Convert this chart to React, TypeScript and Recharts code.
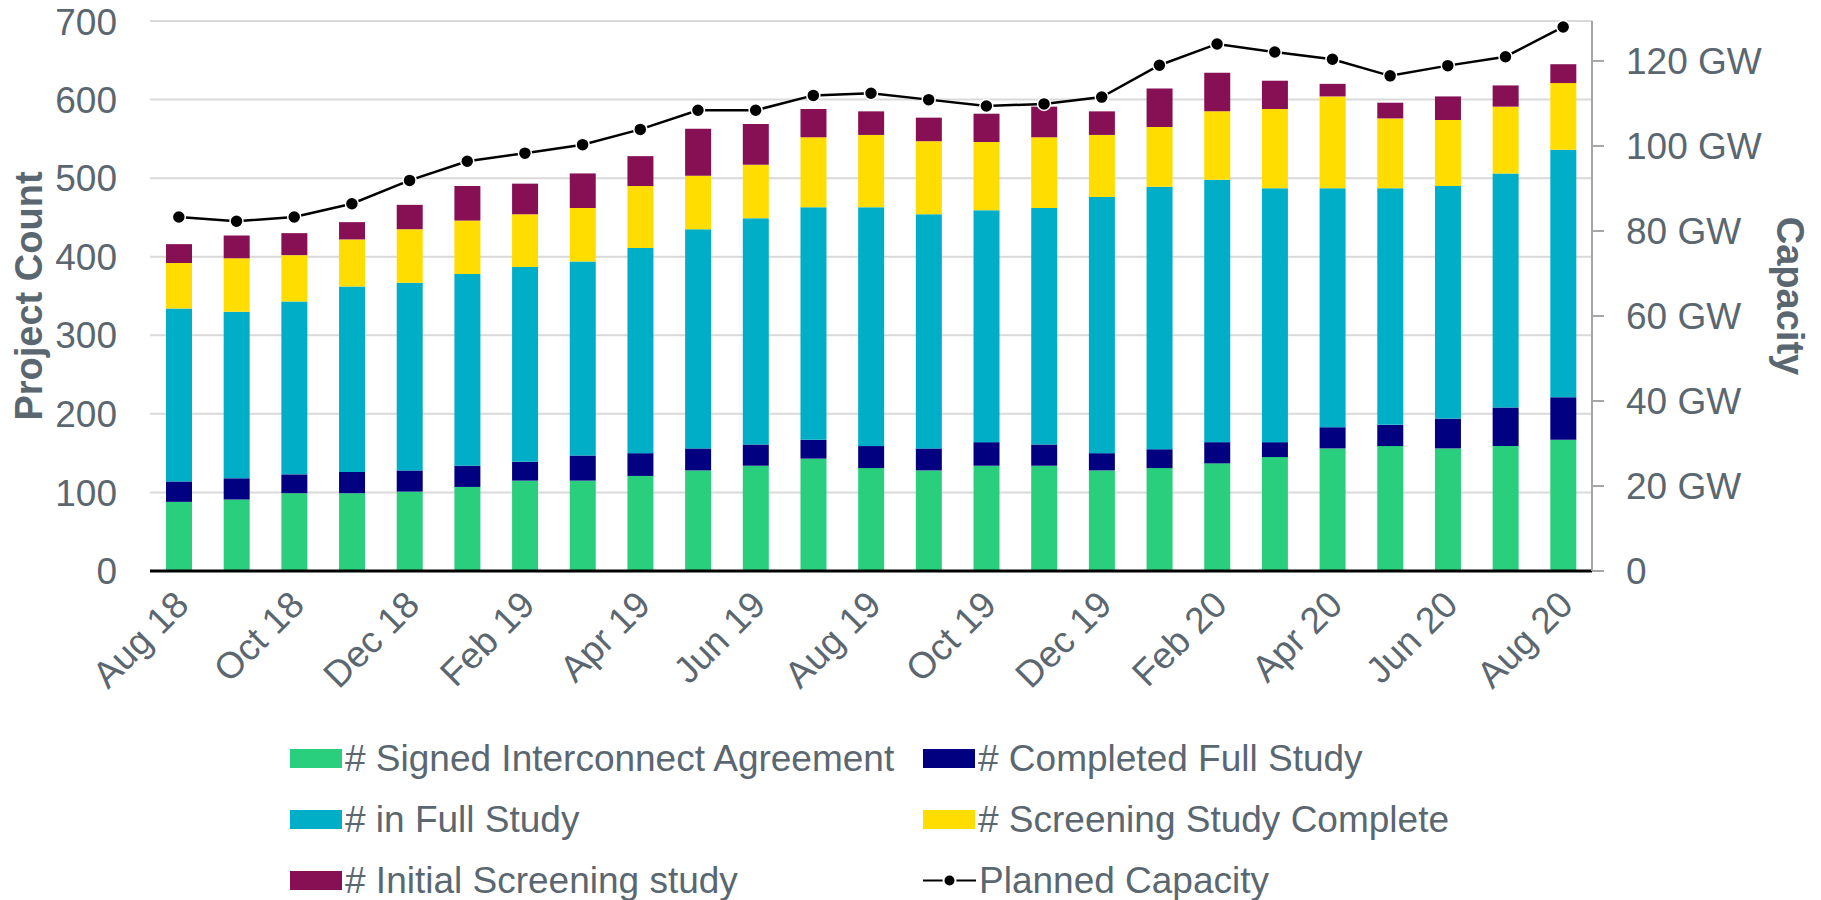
import {
  ComposedChart,
  Bar,
  Line,
  XAxis,
  YAxis,
  CartesianGrid,
  Label,
} from "recharts";

const months = [
  "Aug 18", "Sep 18", "Oct 18", "Nov 18", "Dec 18", "Jan 19", "Feb 19", "Mar 19",
  "Apr 19", "May 19", "Jun 19", "Jul 19", "Aug 19", "Sep 19", "Oct 19", "Nov 19",
  "Dec 19", "Jan 20", "Feb 20", "Mar 20", "Apr 20", "May 20", "Jun 20", "Jul 20", "Aug 20",
];

const signedIA = [88, 91, 99, 99, 101, 107, 115, 115, 121, 128, 134, 143, 131, 128, 134, 134, 128, 131, 137, 145, 156, 159, 156, 159, 167];
const completedFull = [26, 27, 24, 27, 27, 27, 24, 32, 29, 28, 27, 24, 28, 28, 30, 27, 22, 24, 27, 19, 27, 27, 38, 49, 54];
const inFullStudy = [220, 212, 220, 236, 239, 244, 248, 247, 261, 279, 288, 296, 304, 298, 295, 301, 326, 334, 334, 323, 304, 301, 296, 298, 315];
const screeningComplete = [58, 68, 59, 60, 68, 68, 67, 68, 79, 68, 68, 89, 92, 93, 87, 90, 79, 76, 87, 101, 117, 89, 84, 85, 85];
const initialScreening = [24, 29, 28, 22, 31, 44, 39, 44, 38, 60, 52, 36, 30, 30, 36, 39, 30, 49, 49, 36, 16, 20, 30, 27, 24];
const plannedCapacityGW = [83.3, 82.3, 83.3, 86.4, 91.9, 96.4, 98.3, 100.3, 103.9, 108.4, 108.4, 111.9, 112.4, 110.9, 109.4, 109.9, 111.5, 119, 124, 122.1, 120.4, 116.5, 118.9, 121, 128];

const countTicks = [0, 100, 200, 300, 400, 500, 600, 700];
const capacityTicks = [0, 20, 40, 60, 80, 100, 120];

const TEXT = "#5B6770";
const FONT = "'Liberation Sans', Arial, sans-serif";

const series = [
  { key: "signed", name: "# Signed Interconnect Agreement", color: "#29CF7D" },
  { key: "completed", name: "# Completed Full Study", color: "#000080" },
  { key: "full", name: "# in Full Study", color: "#00AEC7" },
  { key: "screening", name: "# Screening Study Complete", color: "#FFDD00" },
  { key: "initial", name: "# Initial Screening study", color: "#870F54" },
];

const data = months.map((m, i) => ({
  month: m,
  signed: signedIA[i],
  completed: completedFull[i],
  full: inFullStudy[i],
  screening: screeningComplete[i],
  initial: initialScreening[i],
  capacity: plannedCapacityGW[i],
}));

function MonthTick({ x, y, payload }: any) {
  return (
    <text
      transform={`translate(${x + 12},${y + 36}) rotate(-45)`}
      textAnchor="end"
      fill={TEXT}
      fontSize={37}
      fontFamily={FONT}
    >
      {payload.value}
    </text>
  );
}

// legend order follows the reference: two columns, three rows
const legendItems = [
  series[0], series[1], series[2], series[3], series[4],
  { key: "capacity", name: "Planned Capacity", color: "#000" },
];

function ChartLegend() {
  return (
    <div
      style={{
        position: "absolute",
        left: 290,
        top: 728,
        display: "grid",
        gridTemplateColumns: "633px auto",
        gridAutoRows: "61px",
        fontFamily: FONT,
        fontSize: 37,
        color: TEXT,
      }}
    >
      {legendItems.map((it) => (
        <div key={it.key} style={{ display: "flex", alignItems: "center" }}>
          {it.key === "capacity" ? (
            <svg width={53} height={19}>
              <line x1={0} y1={9.5} x2={53} y2={9.5} stroke="#000" strokeWidth={2} />
              <circle cx={26.5} cy={9.5} r={6} fill="#000" stroke="#fff" strokeWidth={2} />
            </svg>
          ) : (
            <div style={{ width: 52, height: 19, background: it.color }} />
          )}
          <span style={{ marginLeft: 3, whiteSpace: "nowrap" }}>{it.name}</span>
        </div>
      ))}
    </div>
  );
}

export default function App() {
  return (
    <div style={{ position: "absolute", left: 0, top: 0, width: 1821, height: 900, background: "#fff" }}>
      <ComposedChart
        width={1821}
        height={900}
        data={data}
        margin={{ top: 21, right: 0, left: 0, bottom: 199 }}
        barSize={26}
      >
        <CartesianGrid yAxisId="left" vertical={false} stroke="#D9D9D9" strokeWidth={2} />
        <XAxis
          dataKey="month"
          interval={1}
          tick={<MonthTick />}
          tickLine={false}
          tickSize={0}
          tickMargin={0}
          height={130}
          axisLine={{ stroke: "#000", strokeWidth: 3 }}
        />
        <YAxis
          yAxisId="left"
          width={150}
          domain={[0, 700]}
          ticks={countTicks}
          axisLine={false}
          tickLine={false}
          tickSize={0}
          tickMargin={33}
          tick={{ fill: TEXT, fontSize: 37, fontFamily: FONT }}
        >
          <Label
            content={({ viewBox }: any) => (
              <text
                transform={`translate(${viewBox.x + 42},${viewBox.y + viewBox.height / 2}) rotate(-90)`}
                textAnchor="middle"
                fill={TEXT}
                fontSize={38}
                fontWeight="bold"
                fontFamily={FONT}
              >
                Project Count
              </text>
            )}
          />
        </YAxis>
        <YAxis
          yAxisId="right"
          orientation="right"
          width={229}
          domain={[0, 129.4]}
          ticks={capacityTicks}
          axisLine={{ stroke: "#A6A6A6", strokeWidth: 2 }}
          tickLine={{ stroke: "#A6A6A6", strokeWidth: 2 }}
          tickSize={12}
          tickMargin={22}
          tickFormatter={(v: number) => (v === 0 ? "0" : `${v} GW`)}
          tick={{ fill: TEXT, fontSize: 37, fontFamily: FONT, textAnchor: "start" }}
        >
          <Label
            content={({ viewBox }: any) => (
              <text
                transform={`translate(${viewBox.x + 185},${viewBox.y + viewBox.height / 2}) rotate(90)`}
                textAnchor="middle"
                fill={TEXT}
                fontSize={38}
                fontWeight="bold"
                fontFamily={FONT}
              >
                Capacity
              </text>
            )}
          />
        </YAxis>
        {series.map((s) => (
          <Bar
            key={s.key}
            yAxisId="left"
            dataKey={s.key}
            name={s.name}
            stackId="q"
            fill={s.color}
            isAnimationActive={false}
          />
        ))}
        <Line
          yAxisId="right"
          dataKey="capacity"
          name="Planned Capacity"
          type="linear"
          stroke="#000"
          strokeWidth={2.5}
          dot={{ r: 6.5, fill: "#000", stroke: "#fff", strokeWidth: 1.5 }}
          isAnimationActive={false}
        />
      </ComposedChart>
      <ChartLegend />
    </div>
  );
}
